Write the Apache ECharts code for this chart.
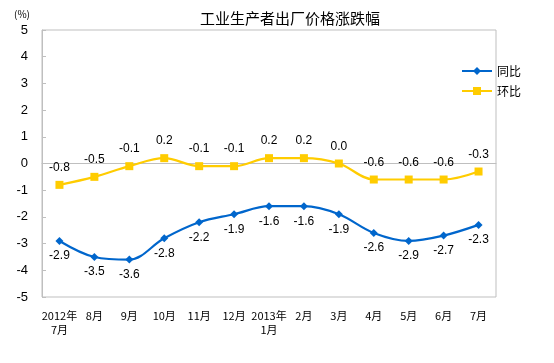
<!DOCTYPE html>
<html><head><meta charset="utf-8">
<script src="https://cdn.jsdelivr.net/npm/echarts@6/dist/echarts.min.js"></script>
<style>html,body{margin:0;padding:0;background:#fff}#c{width:554px;height:363px}</style>
</head><body><div id="c"></div>
<script>
const categories = ["2012年\n7月","8月","9月","10月","11月","12月","2013年\n1月","2月","3月","4月","5月","6月","7月"];
const yoy = [-2.9,-3.5,-3.6,-2.8,-2.2,-1.9,-1.6,-1.6,-1.9,-2.6,-2.9,-2.7,-2.3];
const mom = [-0.8,-0.5,-0.1,0.2,-0.1,-0.1,0.2,0.2,0.0,-0.6,-0.6,-0.6,-0.3];
const yTicks = [-5,-4,-3,-2,-1,0,1,2,3,4,5];

const chart = echarts.init(document.getElementById('c'));
const cjk = '"Noto Sans CJK SC", "Liberation Sans", sans-serif';
chart.setOption({
  animation: false,
  textStyle: {fontFamily: cjk},
  title: {text: '工业生产者出厂价格涨跌幅', left: 195, top: 6,
    textStyle: {fontSize: 15, fontWeight: 'normal', color: '#000', fontFamily: cjk}},
  graphic: [{type: 'text', left: 14, top: 9, style: {text: '(%)', fontSize: 10, fill: '#000', fontFamily: cjk}}],
  legend: {orient: 'vertical', left: 456, top: 60, itemGap: 8, itemWidth: 30, itemHeight: 10,
    textStyle: {fontSize: 12, color: '#000', fontFamily: cjk},
    data: ['同比', '环比']},
  grid: {left: 42, right: 58, top: 30, bottom: 66, show: true, borderColor: '#BFBFBF', borderWidth: 1},
  xAxis: {type: 'category', data: categories, boundaryGap: true,
    axisLine: {lineStyle: {color: '#BFBFBF'}},
    axisTick: {inside: true, length: 4, lineStyle: {color: '#BFBFBF'}},
    axisLabel: {color: '#000', fontSize: 11, margin: 12, lineHeight: 14, interval: 0, fontFamily: cjk}},
  yAxis: {type: 'value', min: -5, max: 5, interval: 1,
    axisLine: {show: true, lineStyle: {color: '#BFBFBF'}},
    axisTick: {show: true, inside: true, length: 4, lineStyle: {color: '#BFBFBF'}},
    splitLine: {show: false},
    axisLabel: {color: '#000', fontSize: 13, margin: 14, fontFamily: '"Liberation Sans", Arial, sans-serif',
      formatter: v => yTicks.includes(v) ? String(v) : ''}},
  series: [
    {name: '同比', type: 'line', data: yoy, smooth: 0.35, symbol: 'diamond', symbolSize: 8,
      itemStyle: {color: '#0066CC'}, lineStyle: {color: '#0066CC', width: 2.2},
      label: {show: true, position: 'bottom', distance: 5, color: '#000', fontSize: 12,
        fontFamily: '"Liberation Sans", Arial, sans-serif', formatter: p => p.value.toFixed(1)}},
    {name: '环比', type: 'line', data: mom, smooth: 0.35, symbol: 'rect', symbolSize: 8,
      itemStyle: {color: '#FFCC00'}, lineStyle: {color: '#FFCC00', width: 2.2},
      label: {show: true, position: 'top', distance: 7, color: '#000', fontSize: 12,
        fontFamily: '"Liberation Sans", Arial, sans-serif', formatter: p => p.value.toFixed(1)}}
  ]
});
</script></body></html>
